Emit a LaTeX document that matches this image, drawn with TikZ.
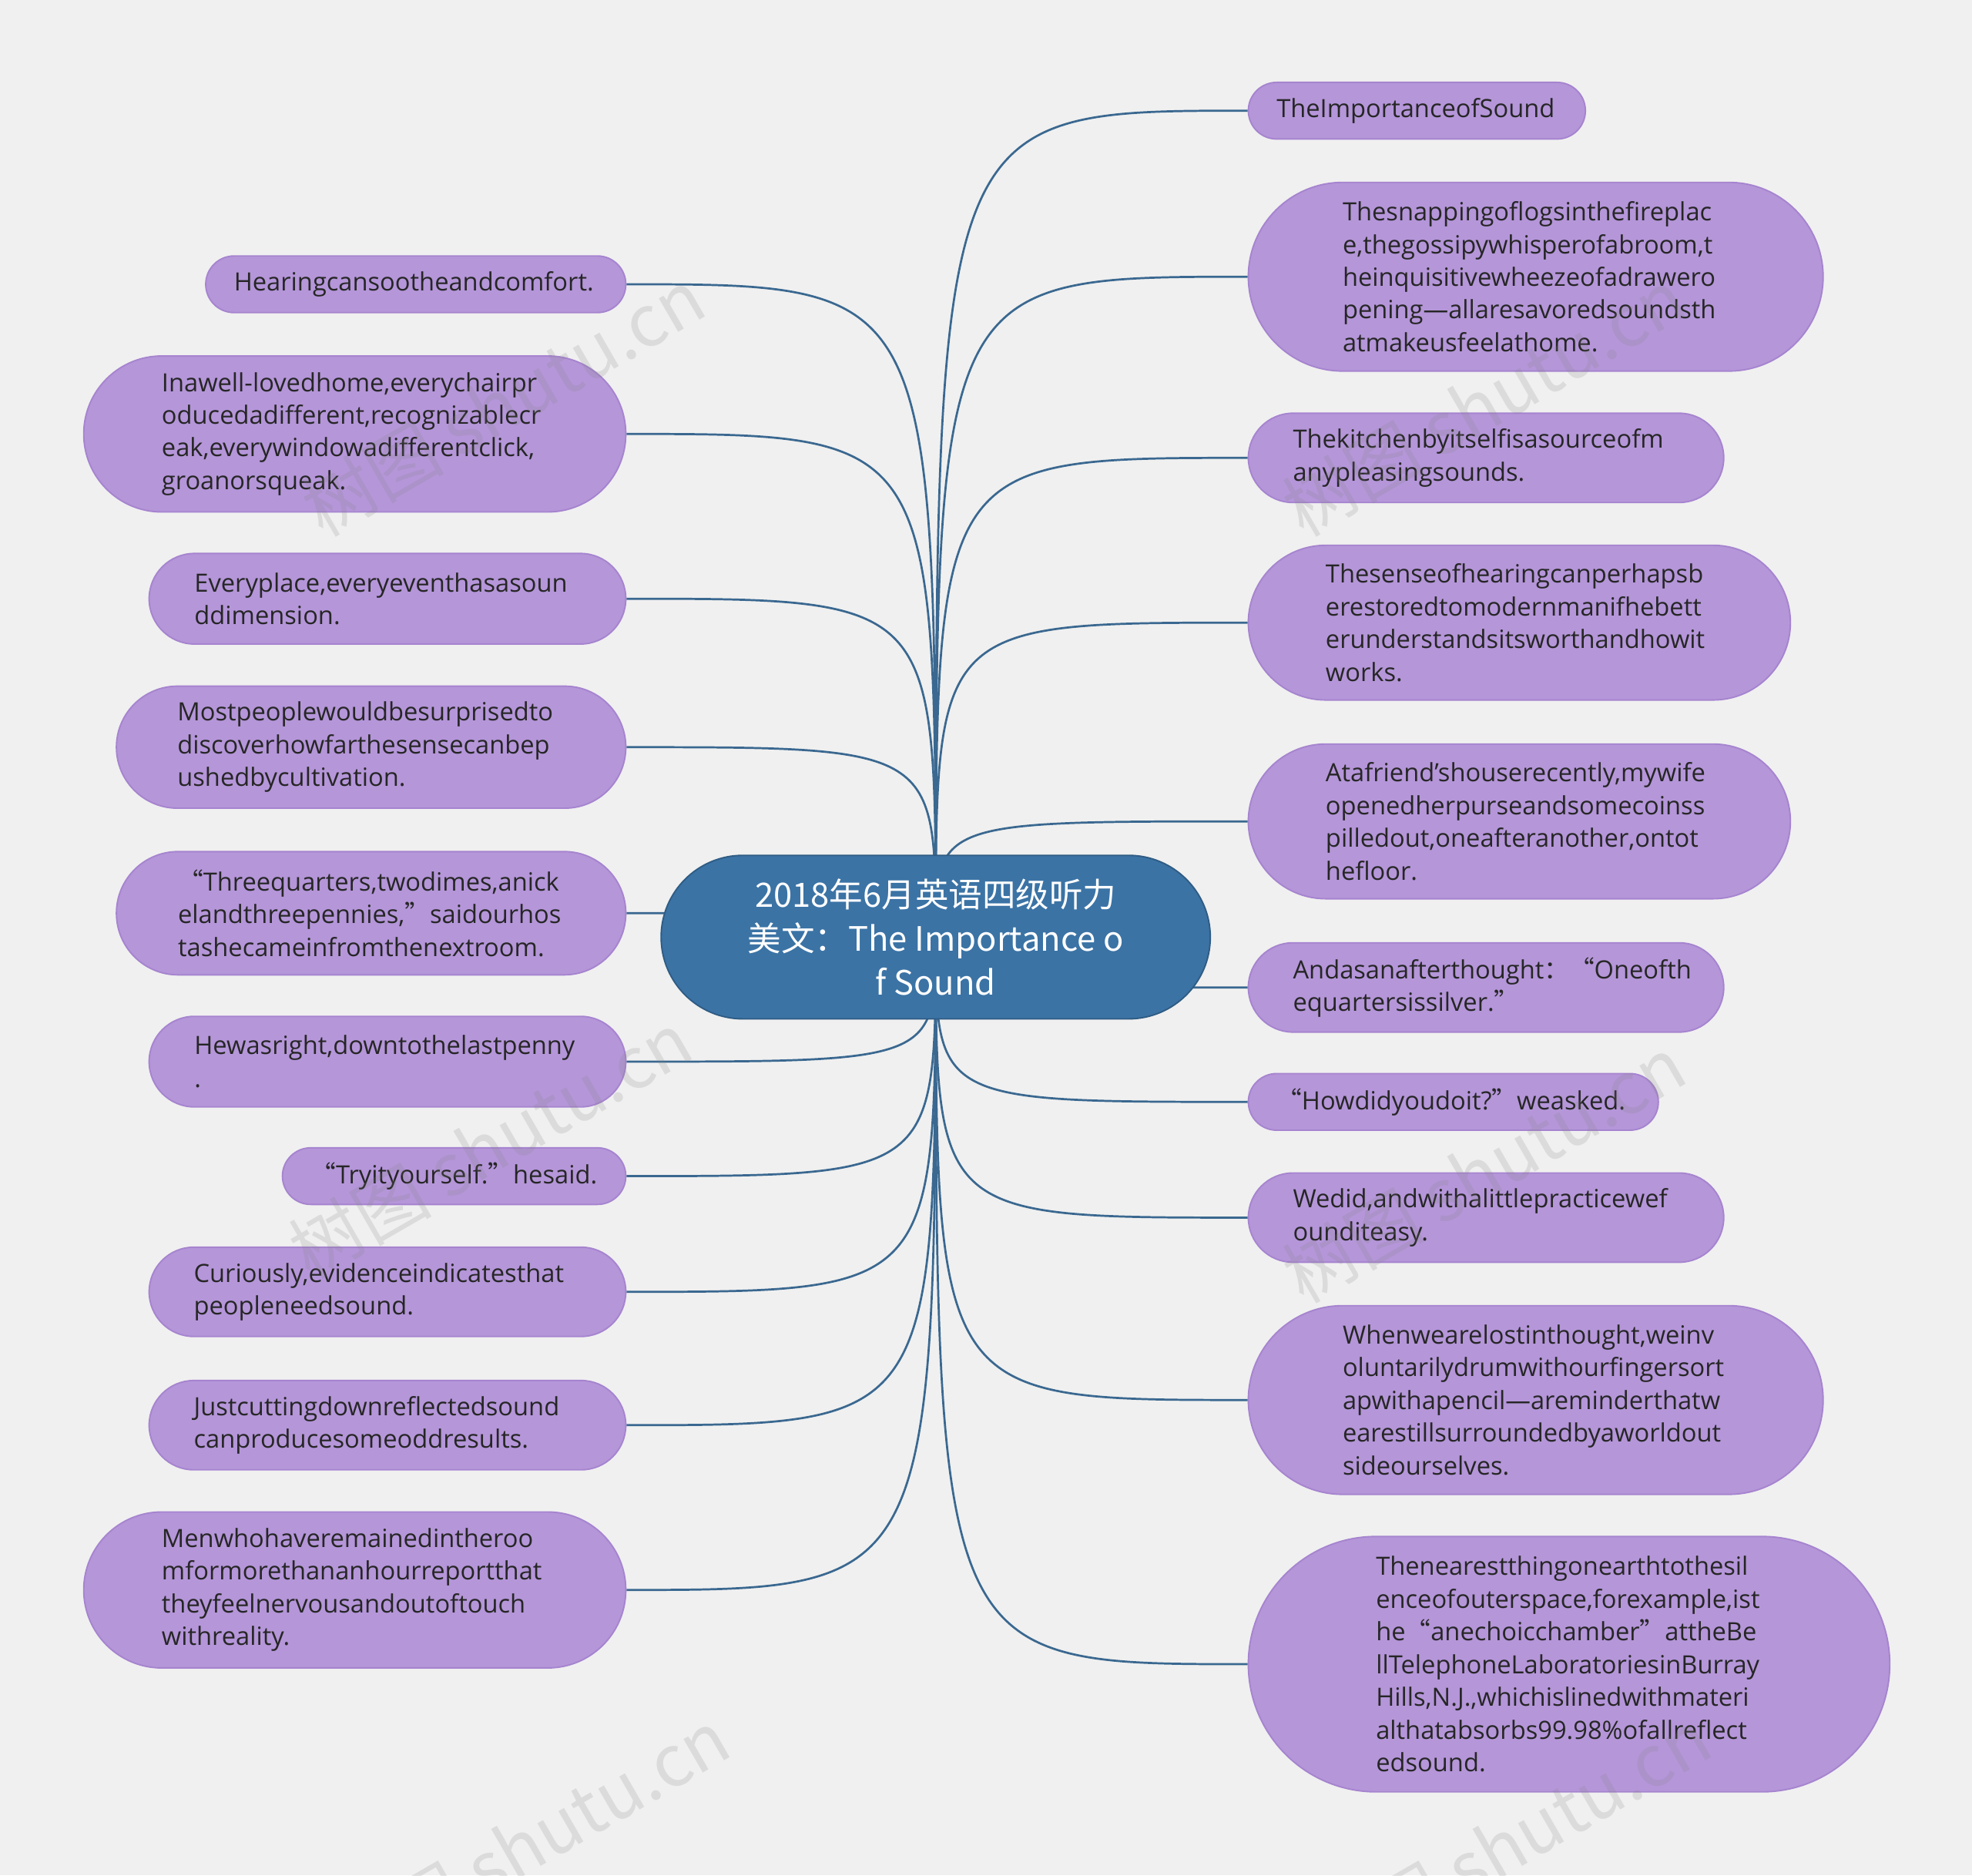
\documentclass[tikz,border=0pt]{standalone}
\usepackage{fontspec}
\setmainfont{Open Sans}
\newfontfamily\cjk{Noto Sans CJK SC}
\newcommand\qo{{\cjk “}}
\newcommand\qc{{\cjk ”}}
\newcommand\qcol{{\cjk ：}}
\definecolor{bg}{HTML}{F0F0F0}
\definecolor{leaffill}{HTML}{B596D9}
\definecolor{leafdraw}{HTML}{A684CF}
\definecolor{rootfill}{HTML}{3B73A5}
\definecolor{edge}{HTML}{3A6890}
\tikzset{
 leaf/.style={fill=leaffill, draw=leafdraw, line width=0.7pt, inner ysep=0pt, align=left,
   font=\fontsize{12}{15.6}\selectfont, text=black!85},
 conn/.style={draw=edge, line width=1pt},
 wm/.style={text=gray, opacity=0.18, rotate=30, font=\cjk\fontsize{34}{34}\selectfont}
}
\newcommand\mynode[6]{%
 \pgfmathsetmacro\hh{#5*0.6}\pgfmathsetmacro\ww{#3*0.6}\pgfmathsetmacro\tw{(#3-#5)*0.6}%
 \pgfmathsetmacro\rr{#5*0.3}\pgfmathsetmacro\xs{#5*0.3}%
 \node[leaf, anchor=west, minimum width=\ww pt, minimum height=\hh pt, rounded corners=\rr pt,
   text width=\tw pt, inner xsep=\xs pt] (#1) at (#2,#4) {#6};}
\begin{document}
\begin{tikzpicture}[x=0.6pt,y=-0.6pt]
\fill[bg] (0,0) rectangle (1568,1491);
\useasboundingbox (0,0) rectangle (1568,1491);
% left
\mynode{l1}{163}{334}{226}{45}{Hearingcansootheandcomfort.}
\mynode{l2}{66}{431}{345}{124}{Inawell-lovedhome,everychairpr\\oducedadifferent,recognizablecr\\eak,everywindowadifferentclick,\\groanorsqueak.}
\mynode{l3}{118}{379}{476}{72}{Everyplace,everyeventhasasoun\\ddimension.}
\mynode{l4}{92}{405}{594}{97}{Mostpeoplewouldbesurprisedto\\discoverhowfarthesensecanbep\\ushedbycultivation.}
\mynode{l5}{92}{405}{726}{98}{\qo Threequarters,twodimes,anick\\elandthreepennies,\qc saidourhos\\tashecameinfromthenextroom.}
\mynode{l6}{118}{379}{844}{72}{Hewasright,downtothelastpenny\\.}
\mynode{l7}{224}{273}{935}{45}{\qo Tryityourself.\qc hesaid.}
\mynode{l8}{118}{379}{1027}{71}{Curiously,evidenceindicatesthat\\peopleneedsound.}
\mynode{l9}{118}{379}{1133}{71}{Justcuttingdownreflectedsound\\canproducesomeoddresults.}
\mynode{l10}{66}{431}{1264}{124}{Menwhohaveremainedintheroo\\mformorethananhourreportthat\\theyfeelnervousandoutoftouch\\withreality.}
% right
\mynode{r1}{992}{268}{88}{45}{TheImportanceofSound}
\mynode{r2}{992}{457}{220}{150}{Thesnappingoflogsinthefireplac\\e,thegossipywhisperofabroom,t\\heinquisitivewheezeofadrawero\\pening—allaresavoredsoundsth\\atmakeusfeelathome.}
\mynode{r3}{992}{378}{364}{71}{Thekitchenbyitselfisasourceofm\\anypleasingsounds.}
\mynode{r4}{992}{431}{495}{123}{Thesenseofhearingcanperhapsb\\erestoredtomodernmanifhebett\\erunderstandsitsworthandhowit\\works.}
\mynode{r5}{992}{431}{653}{123}{Atafriend'shouserecently,mywife\\openedherpurseandsomecoinss\\pilledout,oneafteranother,ontot\\hefloor.}
\mynode{r6}{992}{378}{785}{71}{Andasanafterthought\qcol\qo Oneofth\\equartersissilver.\qc}
\mynode{r7}{992}{326}{876}{45}{\qo Howdidyoudoit?\qc weasked.}
\mynode{r8}{992}{378}{968}{71}{Wedid,andwithalittlepracticewef\\ounditeasy.}
\mynode{r9}{992}{457}{1113}{150}{Whenwearelostinthought,weinv\\oluntarilydrumwithourfingersort\\apwithapencil—areminderthatw\\earestillsurroundedbyaworldout\\sideourselves.}
\mynode{r10}{992}{510}{1323}{203}{Thenearestthingonearthtothesil\\enceofouterspace,forexample,ist\\he\qo anechoicchamber\qc attheBe\\llTelephoneLaboratoriesinBurray\\Hills,N.J.,whichislinedwithmateri\\althatabsorbs99.98\%ofallreflect\\edsound.}
% connectors
\coordinate (c) at (744,745);
\foreach \n/\y in {l1/226,l2/345,l3/476,l4/594,l5/726,l6/844,l7/935,l8/1027,l9/1133,l10/1264}
  \draw[conn] (c) .. controls (744,\y) .. (\n.east);
\foreach \n/\y in {r1/88,r2/220,r3/364,r4/495,r5/653,r6/785,r7/876,r8/968,r9/1113,r10/1323}
  \draw[conn] (c) .. controls (744,\y) .. (\n.west);
% root
\node[fill=rootfill, draw=rootfill!80!black, line width=0.7pt, minimum width=262pt, minimum height=78pt,
  rounded corners=39pt, align=center, text=white, font=\cjk\fontsize{16}{21}\selectfont] (root) at (744,745)
  {2018年6月英语四级听力\\美文：The Importance o\\f Sound};
% watermarks
\foreach \p in {(400,320),(1180,320),(390,910),(1180,930),(420,1465),(1200,1465)}
  \node[wm] at \p {树图 shutu.cn};
\end{tikzpicture}
\end{document}
